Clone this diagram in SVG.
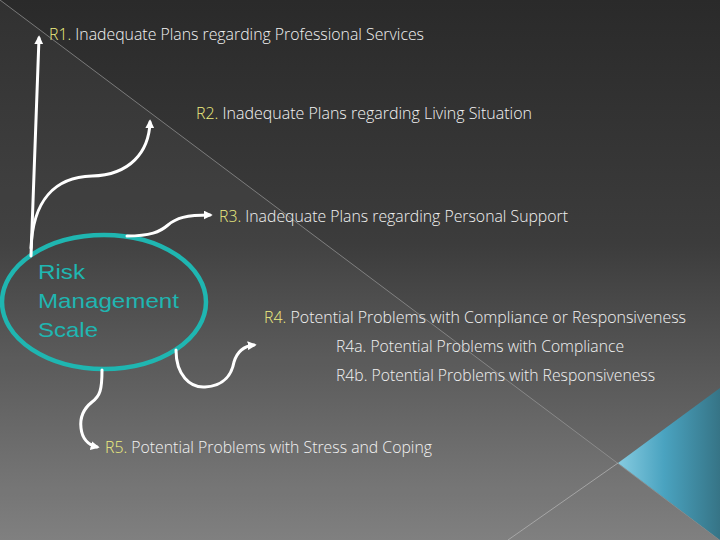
<svg xmlns="http://www.w3.org/2000/svg" width="720" height="540" viewBox="0 0 720 540">
  <defs>
    <linearGradient id="bg" x1="0" y1="0" x2="0" y2="1">
      <stop offset="0" stop-color="#2a2a2a"/>
      <stop offset="0.45" stop-color="#3c3c3c"/>
      <stop offset="1" stop-color="#7c7c7c"/>
    </linearGradient>
    <linearGradient id="tri" x1="0" y1="0" x2="1" y2="0">
      <stop offset="0" stop-color="#86cbe0"/>
      <stop offset="0.45" stop-color="#4aa3c0"/>
      <stop offset="1" stop-color="#367486"/>
    </linearGradient>
    <marker id="ah" viewBox="0 0 10 10" refX="7" refY="5" markerWidth="9" markerHeight="9" markerUnits="userSpaceOnUse" orient="auto">
      <path d="M0,0 L10,5 L0,10 Z" fill="#ffffff"/>
    </marker>
    <style>
      .lbl { font-family: "Open Sans", "DejaVu Sans", sans-serif; font-weight: 300; font-size: 15.5px; fill: #f2f2f2; }
      .key { fill: #eeee80; }
      .conn { fill: none; stroke: #ffffff; stroke-width: 3; stroke-linecap: round; marker-end: url(#ah); }
      .node { fill: none; stroke: #1fb6b1; stroke-width: 4.5; }
      .title { font-family: "Liberation Sans", Arial, sans-serif; font-size: 21px; fill: #1fb6b1; }
    </style>
  </defs>

  <!-- background -->
  <rect x="0" y="0" width="720" height="540" fill="url(#bg)"/>
  <polygon points="0,0 720,540 0,540" fill="#ffffff" fill-opacity="0.035"/>
  <line x1="0" y1="0" x2="720" y2="540" stroke="#9a9a9a" stroke-width="1" stroke-opacity="0.7"/>
  <line x1="508" y1="540" x2="618" y2="463" stroke="#b0b0b0" stroke-width="1" stroke-opacity="0.8"/>
  <polygon points="618,463 720,388 720,540" fill="url(#tri)"/>

  <!-- central node -->
  <g id="risk-management-scale">
    <ellipse class="node" cx="104" cy="302" rx="102" ry="67"/>
    <text class="title" x="38" y="279" textLength="47" lengthAdjust="spacingAndGlyphs">Risk</text>
    <text class="title" x="38" y="308" textLength="141" lengthAdjust="spacingAndGlyphs">Management</text>
    <text class="title" x="38" y="337" textLength="60" lengthAdjust="spacingAndGlyphs">Scale</text>
  </g>

  <!-- connectors -->
  <g id="connectors">
    <path class="conn" d="M31,256 L39,38"/>
    <path class="conn" d="M31,248 C33,200 55,177 92,176 C130,175 149,152 150,122"/>
    <path class="conn" d="M127,236 C150,236 160,232 168,225 C176,218 186,215 210,215"/>
    <path class="conn" d="M176,350 C176,375 190,388 205,387 C225,386 232,373 234,362 C237,352 244,346 254,345"/>
    <path class="conn" d="M102,370 C102,390 100,396 92,402 C82,410 80,420 81,428 C82,438 88,445 97,447"/>
  </g>

  <g id="r1">
    <text class="lbl" x="49" y="40" textLength="375" lengthAdjust="spacingAndGlyphs"><tspan class="key">R1.</tspan> Inadequate Plans regarding Professional Services</text>
  </g>
  <g id="r2">
    <text class="lbl" x="196" y="119" textLength="336" lengthAdjust="spacingAndGlyphs"><tspan class="key">R2.</tspan> Inadequate Plans regarding Living Situation</text>
  </g>
  <g id="r3">
    <text class="lbl" x="219" y="222" textLength="349" lengthAdjust="spacingAndGlyphs"><tspan class="key">R3.</tspan> Inadequate Plans regarding Personal Support</text>
  </g>
  <g id="r4">
    <text class="lbl" x="264" y="323" textLength="422" lengthAdjust="spacingAndGlyphs"><tspan class="key">R4.</tspan> Potential Problems with Compliance or Responsiveness</text>
  </g>
  <g id="r4a">
    <text class="lbl" x="336" y="352" textLength="288" lengthAdjust="spacingAndGlyphs">R4a. Potential Problems with Compliance</text>
  </g>
  <g id="r4b">
    <text class="lbl" x="336" y="381" textLength="319" lengthAdjust="spacingAndGlyphs">R4b. Potential Problems with Responsiveness</text>
  </g>
  <g id="r5">
    <text class="lbl" x="105" y="453" textLength="327" lengthAdjust="spacingAndGlyphs"><tspan class="key">R5.</tspan> Potential Problems with Stress and Coping</text>
  </g>
</svg>
